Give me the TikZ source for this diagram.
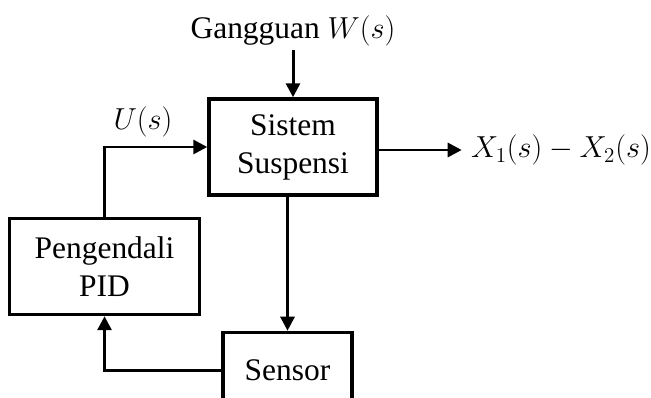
\documentclass[tikz,border=0pt]{standalone}
\usepackage{fontspec}
\setmainfont{Liberation Serif}
\usetikzlibrary{arrows.meta, positioning}

\begin{document}
\begin{tikzpicture}[
        x=0.02cm, y=-0.02cm,
        block/.style={rectangle, draw, line width=2pt, align=center, minimum height=1.92cm},
        arrow/.style={-{Triangle[length=0.28cm, width=0.28cm]}, line width=1.7pt},
        font=\fontsize{17.9}{21.6}\selectfont
    ]
        \useasboundingbox (0,0) rectangle (651,398);
        \clip (0,0) rectangle (651,398);

        \node[block, minimum width=3.36cm] (plant) at (293,147) {Sistem\\Suspensi};
        \node[block, minimum width=3.8cm, below left=0.4cm and 0.12cm of plant.south west] (pid) {Pengendali\\PID};
        \node[block, minimum width=2.58cm, minimum height=1.52cm, below=2.68cm of plant, xshift=-0.11cm] (sensor) {Sensor};
        \node[inner sep=0pt, above=1.02cm of plant] (dist) {Gangguan $W(s)$};
        \node[inner sep=0pt, right=1.84cm of plant, yshift=-0.06cm, font=\fontsize{17}{20}\selectfont] (xout) {$X_1(s)-X_2(s)$};
        \node (ulabel) at (143,122) {$U(s)$};

        \draw[arrow, shorten <=0.08cm] (dist) -- (plant);
        \draw[arrow, shorten >=0.18cm] (plant.east |- xout) -- (xout);
        \draw[arrow] (pid) |- (plant);
        \draw[arrow] (plant.south -| sensor) -- (sensor);
        \draw[arrow] (sensor) -| (pid);

    \end{tikzpicture}
\end{document}
